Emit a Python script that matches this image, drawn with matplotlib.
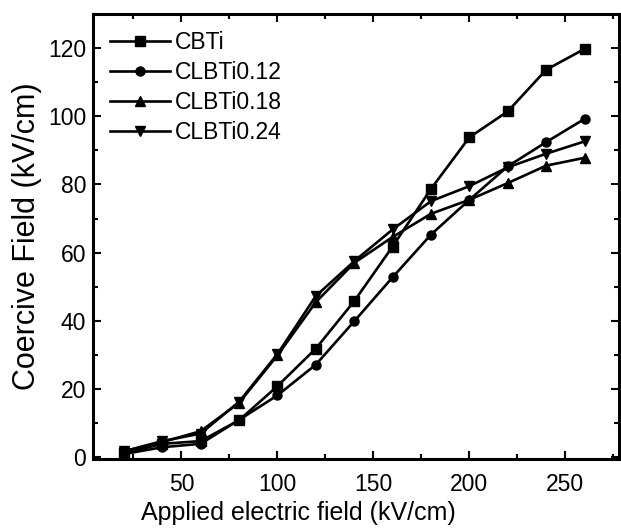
import numpy as np
import matplotlib
matplotlib.use('Agg')
import matplotlib.pyplot as plt
from matplotlib.ticker import MultipleLocator

# Data
field = [20, 40, 60, 80, 100, 120, 140, 160, 180, 200, 220, 240, 260]
cbti = [1.2, 4.0, 4.8, 10.9, 20.9, 31.9, 45.8, 61.8, 78.7, 93.8, 101.4, 113.6, 119.7]
clbti012 = [1.0, 3.0, 4.0, 11.0, 18.2, 27.2, 39.9, 52.8, 65.3, 75.5, 85.3, 92.4, 99.2]
clbti018 = [1.8, 4.5, 7.7, 16.0, 29.9, 45.5, 57.0, 64.6, 71.4, 75.5, 80.4, 85.5, 87.8]
clbti024 = [1.8, 4.8, 7.0, 16.3, 30.3, 47.3, 57.5, 66.8, 75.1, 79.5, 85.0, 89.0, 92.6]

series = [('CBTi', cbti, 's'),
          ('CLBTi0.12', clbti012, 'o'),
          ('CLBTi0.18', clbti018, '^'),
          ('CLBTi0.24', clbti024, 'v')]

plt.rcParams['font.family'] = ['Liberation Sans', 'DejaVu Sans']

fig = plt.figure(figsize=(6.21, 5.29), dpi=100)
ax = fig.add_axes([0.150, 0.132, 0.847, 0.842])

for name, vals, m in series:
    ax.plot(field, vals, color='black', marker=m, markersize=6.5,
            linewidth=1.9, label=name)

ax.set_xlim(4, 278)
ax.set_ylim(-0.5, 130)
ax.xaxis.set_major_locator(MultipleLocator(50))
ax.xaxis.set_minor_locator(MultipleLocator(25))
ax.yaxis.set_major_locator(MultipleLocator(20))
ax.yaxis.set_minor_locator(MultipleLocator(10))
ax.set_xticks([50, 100, 150, 200, 250])

ax.tick_params(which='both', direction='in', top=True, right=True,
               labelsize=16.5, width=1.5)
ax.tick_params(axis='x', pad=10)
ax.tick_params(axis='y', pad=5)
ax.tick_params(which='major', length=6)
ax.tick_params(which='minor', length=3.5)
for s in ax.spines.values():
    s.set_linewidth(2.2)

ax.set_xlabel('Applied electric field (kV/cm)', fontsize=18)
ax.xaxis.set_label_coords(0.39, -0.095)
ax.set_ylabel('Coercive Field (kV/cm)', fontsize=22)
ax.yaxis.set_label_coords(-0.097, 0.5)

ax.legend(loc='upper left', frameon=False, fontsize=16.5, handlelength=2.6,
          handletextpad=0.2, labelspacing=0.3, borderaxespad=0.35)

plt.savefig('out.png', dpi=100)
